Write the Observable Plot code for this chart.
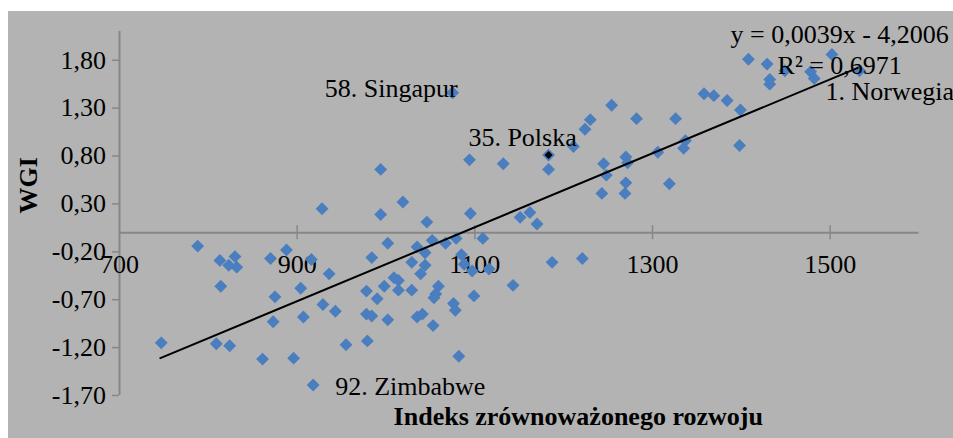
<!DOCTYPE html>
<html><head><meta charset="utf-8">
<script src="https://cdn.jsdelivr.net/npm/d3@7"></script>
<script src="https://cdn.jsdelivr.net/npm/@observablehq/plot@0.6"></script>
<style>
html,body{margin:0;padding:0;background:#fff;}
#wrap{width:953px;height:438px;position:relative;overflow:hidden;background:#fff;}
#chart{position:absolute;left:8px;top:11px;}
#chart svg{display:block;}
</style></head><body><div id="wrap"><div id="chart"></div></div>
<script>
// Indeks zrównoważonego rozwoju (x) vs WGI (y)
const sdi = [1075,1094,1132,994,1019,928,994,1095,1358,1369,1254,1230,1224,1282,1326,1211,
  1183,1183,1245,1248,1270,1272,1306,1337,1335,1270,1269,1243,1319,1162,1151,1170,
  1408,1429,1432,1432,1449,1502,1478,1482,1533,1384,1399,1398,
  747,788,813,823,830,832,814,870,888,875,904,873,907,809,824,861,896,918,916,929,936,943,
  1046,1002,984,1052,1035,1044,1067,1079,1109,1029,1044,1039,1085,1088,1097,1116,1009,1014,998,1014,
  1029,978,990,1059,1056,1054,1099,1143,978,984,1002,1035,1041,1053,1076,1078,955,979,1082,1187,1221];
const wgi = [1.46,0.76,0.72,0.66,0.32,0.25,0.19,0.20,1.45,1.43,1.33,1.18,1.08,1.19,1.19,0.90,
  0.81,0.66,0.72,0.60,0.79,0.73,0.84,0.96,0.88,0.52,0.41,0.41,0.51,0.21,0.16,0.09,
  1.81,1.76,1.60,1.55,1.69,1.86,1.68,1.61,1.69,1.38,1.28,0.91,
  -1.15,-0.14,-0.29,-0.34,-0.25,-0.36,-0.56,-0.27,-0.18,-0.67,-0.58,-0.93,-0.88,-1.16,-1.18,-1.32,-1.31,-1.59,-0.28,-0.75,-0.43,-0.82,
  0.11,-0.11,-0.26,-0.08,-0.15,-0.21,-0.11,-0.06,-0.06,-0.31,-0.34,-0.43,-0.23,-0.33,-0.40,-0.38,-0.47,-0.50,-0.56,-0.60,
  -0.60,-0.61,-0.69,-0.56,-0.64,-0.68,-0.66,-0.55,-0.85,-0.87,-0.91,-0.88,-0.85,-0.97,-0.74,-0.81,-1.17,-1.13,-1.29,-0.31,-0.27];

// labelled countries
const labelNames = ["58. Singapur", "35. Polska", "1. Norwegia", "92. Zimbabwe"];
const labelX = [1075, 1183, 1533, 918];
const labelY = [1.46, 0.81, 1.69, -1.59];

// trend line and its Excel labels
const trendX = [746, 1531];
const trendY = [-1.31, 1.72];
const trendLabels = ["y = 0,0039x - 4,2006", "R² = 0,6971"];

const xTicks = [700, 900, 1100, 1300, 1500];
const yTicks = [-1.7, -1.2, -0.7, -0.2, 0.3, 0.8, 1.3, 1.8];

const points = sdi.map((x, i) => ({x, y: wgi[i]}));
const labels = labelNames.map((name, i) => ({name, x: labelX[i], y: labelY[i]}));
const trend = trendX.map((x, i) => ({x, y: trendY[i]}));
const fmt = d => d.toFixed(2).replace(".", ",");

const FONT = "'Liberation Serif','Times New Roman',serif";
const AX = "#878787";
const BLUE = "#4a7ebe";

const chart = Plot.plot({
  width: 945, height: 427,
  marginLeft: 111, marginRight: 34.5, marginTop: 20, marginBottom: 43,
  x: {domain: [700, 1600], axis: null},
  y: {domain: [-1.7, 2.1], axis: null},
  style: {background: "#b3b3b3", fontFamily: FONT, fontSize: "26px", color: "black"},
  marks: [
    // axes
    Plot.ruleY([0], {x1: 700, x2: 1600, stroke: AX, strokeWidth: 2}),
    Plot.ruleX([700], {y1: -1.7, y2: 2.1, stroke: AX, strokeWidth: 2}),
    Plot.ruleX(xTicks.slice(1), {x: d => d, y1: 0, y2: 0, insetTop: -7, insetBottom: -7, stroke: AX, strokeWidth: 1.5}),
    Plot.ruleY(yTicks, {y: d => d, x1: 700, x2: 700, insetLeft: -7, stroke: AX, strokeWidth: 1.5}),
    Plot.text(yTicks, {x: 700, y: d => d, text: fmt, textAnchor: "end", dx: -13.5, fontSize: 26, fill: "black"}),
    Plot.text(xTicks, {x: d => d, y: 0, text: d => String(d), dy: 32, fontSize: 26, fill: "black"}),
    // data
    Plot.dot(points, {x: "x", y: "y", symbol: "diamond2", r: 5.8, fill: BLUE}),
    Plot.dot(labels.filter(d => d.name.includes("Polska")), {x: "x", y: "y", symbol: "diamond2", r: 3.6, fill: "black"}),
    Plot.line(trend, {x: "x", y: "y", stroke: "black", strokeWidth: 2}),
    // labels
    Plot.text([labels[0]], {x: "x", y: "y", text: "name", textAnchor: "end", dx: 5, dy: -4, fontSize: 26, fill: "black"}),
    Plot.text([labels[1]], {x: "x", y: "y", text: "name", textAnchor: "middle", dx: -26, dy: -17, fontSize: 26, fill: "black"}),
    Plot.text([labels[2]], {x: "x", y: "y", text: "name", textAnchor: "start", dx: -34, dy: 20.5, fontSize: 26, fill: "black"}),
    Plot.text([labels[3]], {x: "x", y: "y", text: "name", textAnchor: "start", dx: 22, dy: 1.5, fontSize: 26, fill: "black"}),
    Plot.text([trend[1]], {x: "x", y: "y", text: () => trendLabels[0], dx: -18, dy: -33.5, fontSize: 26, fill: "black"}),
    Plot.text([trend[1]], {x: "x", y: "y", text: () => trendLabels[1], dx: -18, dy: -2, fontSize: 26, fill: "black"}),
    // axis titles
    Plot.text(["Indeks zrównoważonego rozwoju"], {frameAnchor: "bottom", text: d => d, dx: 59, dy: 29, fontSize: 26, fontWeight: "bold", fill: "black"}),
    Plot.text(["WGI"], {frameAnchor: "left", text: d => d, rotate: -90, dx: -91, dy: 0, fontSize: 26, fontWeight: "bold", fill: "black"})
  ]
});
document.getElementById("chart").appendChild(chart);
</script></body></html>
